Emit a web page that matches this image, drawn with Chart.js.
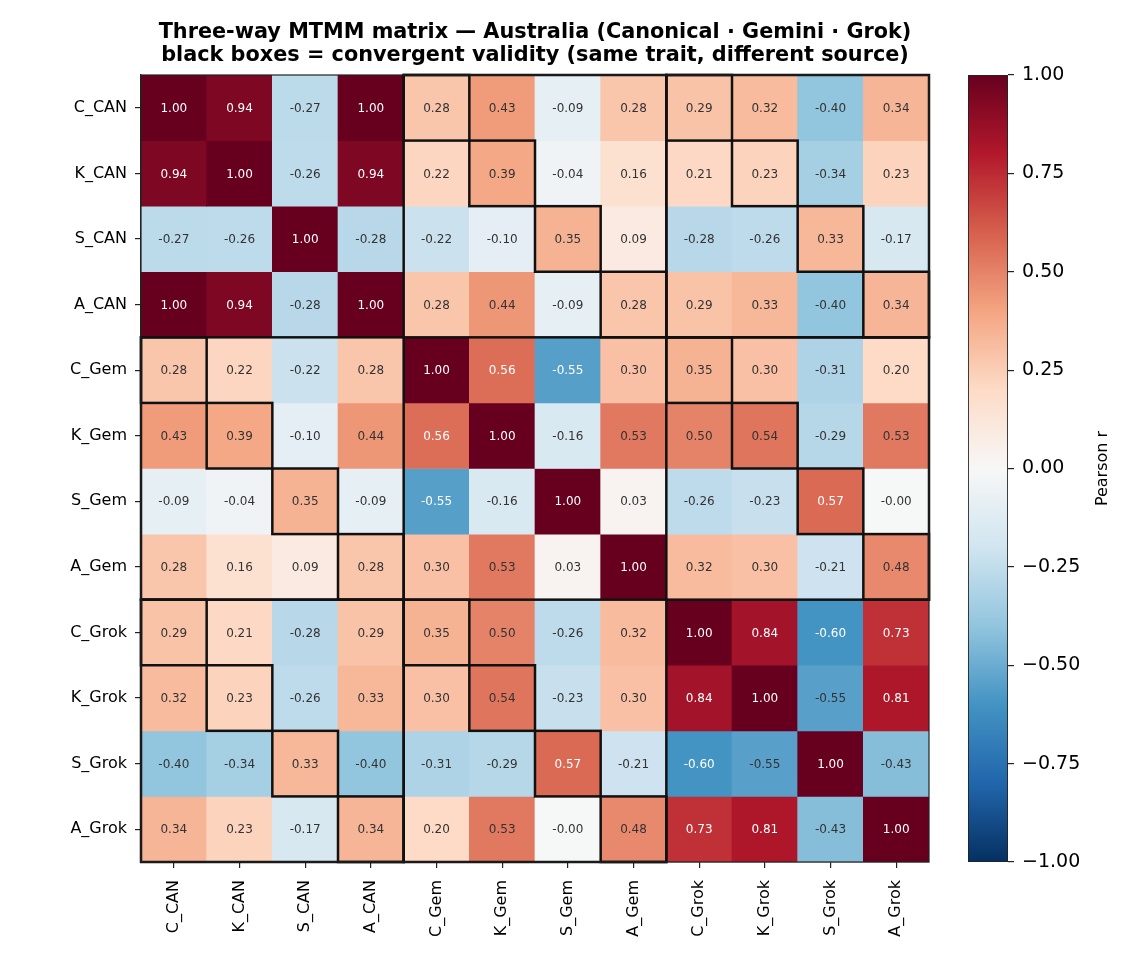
<!DOCTYPE html>
<html>
<head>
<meta charset="utf-8">
<script src="https://cdn.jsdelivr.net/npm/chart.js@4.4.1/dist/chart.umd.min.js"></script>
<style>
  html, body { margin: 0; padding: 0; background: #fff; }
  #wrap { position: relative; width: 1140px; height: 960px; }
  #heat { position: absolute; left: 0; top: 0; }
  #cbar { position: absolute; left: 940px; top: 0; }
</style>
</head>
<body>
<div id="wrap">
  <canvas id="heat" width="940" height="960"></canvas>
  <canvas id="cbar" width="200" height="960"></canvas>
</div>
<script>
// variables (same order on both axes)
const varLabels = ['C_CAN', 'K_CAN', 'S_CAN', 'A_CAN',
                   'C_Gem', 'K_Gem', 'S_Gem', 'A_Gem',
                   'C_Grok', 'K_Grok', 'S_Grok', 'A_Grok'];

// correlation matrix, one row per variable
const rC_CAN  = [1.00, 0.94, -0.27, 1.00, 0.28, 0.43, -0.09, 0.28, 0.29, 0.32, -0.40, 0.34];
const rK_CAN  = [0.94, 1.00, -0.26, 0.94, 0.22, 0.39, -0.04, 0.16, 0.21, 0.23, -0.34, 0.23];
const rS_CAN  = [-0.27, -0.26, 1.00, -0.28, -0.22, -0.10, 0.35, 0.09, -0.28, -0.26, 0.33, -0.17];
const rA_CAN  = [1.00, 0.94, -0.28, 1.00, 0.28, 0.44, -0.09, 0.28, 0.29, 0.33, -0.40, 0.34];
const rC_Gem  = [0.28, 0.22, -0.22, 0.28, 1.00, 0.56, -0.553, 0.30, 0.35, 0.30, -0.31, 0.20];
const rK_Gem  = [0.43, 0.39, -0.10, 0.44, 0.56, 1.00, -0.16, 0.53, 0.50, 0.54, -0.29, 0.53];
const rS_Gem  = [-0.09, -0.04, 0.35, -0.09, -0.553, -0.16, 1.00, 0.03, -0.26, -0.23, 0.57, -0.004];
const rA_Gem  = [0.28, 0.16, 0.09, 0.28, 0.30, 0.53, 0.03, 1.00, 0.32, 0.30, -0.21, 0.48];
const rC_Grok = [0.29, 0.21, -0.28, 0.29, 0.35, 0.50, -0.26, 0.32, 1.00, 0.84, -0.60, 0.73];
const rK_Grok = [0.32, 0.23, -0.26, 0.33, 0.30, 0.54, -0.23, 0.30, 0.84, 1.00, -0.547, 0.81];
const rS_Grok = [-0.40, -0.34, 0.33, -0.40, -0.31, -0.29, 0.57, -0.21, -0.60, -0.547, 1.00, -0.43];
const rA_Grok = [0.34, 0.23, -0.17, 0.34, 0.20, 0.53, -0.004, 0.48, 0.73, 0.81, -0.43, 1.00];

const matrix = [rC_CAN, rK_CAN, rS_CAN, rA_CAN, rC_Gem, rK_Gem, rS_Gem, rA_Gem,
                rC_Grok, rK_Grok, rS_Grok, rA_Grok];

// colour bar range and ticks
const cbarMin = -1;
const cbarMax = 1;
const cbarTicks = [-1, -0.75, -0.5, -0.25, 0, 0.25, 0.5, 0.75, 1];

const titleLines = ['Three-way MTMM matrix \u2014 Australia (Canonical \u00b7 Gemini \u00b7 Grok)',
                    'black boxes = convergent validity (same trait, different source)'];

// RdBu_r colormap stops (low -> high)
const rdbuR = ['#053061', '#2166ac', '#4393c3', '#92c5de', '#d1e5f0', '#f7f7f7',
               '#fddbc7', '#f4a582', '#d6604d', '#b2182b', '#67001f'];

function hexToRgb(h) {
    return [parseInt(h.slice(1, 3), 16), parseInt(h.slice(3, 5), 16), parseInt(h.slice(5, 7), 16)];
}

function cmap(v) {
    let t = (v - cbarMin) / (cbarMax - cbarMin);
    t = Math.max(0, Math.min(1, t)) * (rdbuR.length - 1);
    const i = Math.min(Math.floor(t), rdbuR.length - 2);
    const f = t - i;
    const a = hexToRgb(rdbuR[i]);
    const b = hexToRgb(rdbuR[i + 1]);
    const c = a.map((x, k) => Math.round(x + (b[k] - x) * f));
    return `rgb(${c[0]},${c[1]},${c[2]})`;
}

const FONT = 'DejaVu Sans';

// one stacked dataset per matrix row, each cell one unit high
const datasets = matrix.map((row, r) => ({
    label: varLabels[r],
    data: row.map(() => 1),
    backgroundColor: row.map(v => cmap(v)),
    borderWidth: 0,
    barPercentage: 1,
    categoryPercentage: 1
}));

// cell annotations, convergent boxes, block outlines, title
const heatDecor = {
    id: 'heatDecor',
    afterDatasetsDraw(chart) {
        const ctx = chart.ctx;
        const xs = chart.scales.x;
        const ys = chart.scales.y;
        const ca = chart.chartArea;
        const n = varLabels.length;
        const cw = (ca.right - ca.left) / n;
        const colLeft = c => xs.getPixelForValue(c) - cw / 2;
        const rowTop = r => ys.getPixelForValue(r);

        // text inside cells
        ctx.save();
        ctx.font = `12px "${FONT}"`;
        ctx.textAlign = 'center';
        ctx.textBaseline = 'middle';
        matrix.forEach((row, r) => {
            const meta = chart.getDatasetMeta(r);
            row.forEach((v, c) => {
                const el = meta.data[c];
                const yc = (rowTop(r) + rowTop(r + 1)) / 2;
                ctx.fillStyle = Math.abs(v) > 0.55 ? '#ffffff' : '#333333';
                ctx.fillText(v.toFixed(2), el.x, yc + 1);
            });
        });
        ctx.restore();

        ctx.save();
        ctx.strokeStyle = '#111111';
        ctx.lineWidth = 2.5;
        // off-diagonal source blocks
        const srcOf = l => l.split('_')[1];
        const sources = [...new Set(varLabels.map(srcOf))];
        const bs = n / sources.length;
        for (let bi = 0; bi < sources.length; bi++) {
            for (let bj = 0; bj < sources.length; bj++) {
                if (bi === bj) continue;
                const x0 = colLeft(bj * bs), x1 = colLeft(bj * bs + bs - 1) + cw;
                const y0 = rowTop(bi * bs), y1 = rowTop(bi * bs + bs);
                ctx.strokeRect(x0, y0, x1 - x0, y1 - y0);
            }
        }
        // convergent validity: same trait, different source
        varLabels.forEach((rl, r) => {
            varLabels.forEach((cl, c) => {
                const [tr, sr] = rl.split('_');
                const [tc, sc] = cl.split('_');
                if (tr === tc && sr !== sc) {
                    const x0 = colLeft(c);
                    const y0 = rowTop(r), y1 = rowTop(r + 1);
                    ctx.strokeRect(x0, y0, cw, y1 - y0);
                }
            });
        });
        // frame
        ctx.lineWidth = 1.2;
        ctx.strokeStyle = '#222222';
        ctx.strokeRect(ca.left, ca.top, ca.right - ca.left, ca.bottom - ca.top);
        ctx.restore();

        // title
        ctx.save();
        ctx.font = `bold 20.8px "${FONT}"`;
        ctx.fillStyle = '#000000';
        ctx.textAlign = 'center';
        ctx.textBaseline = 'middle';
        const cx = (ca.left + ca.right) / 2;
        ctx.fillText(titleLines[0], cx, 33);
        ctx.fillText(titleLines[1], cx, 56);
        ctx.restore();
    }
};

new Chart(document.getElementById('heat'), {
    type: 'bar',
    data: { labels: varLabels, datasets: datasets },
    options: {
        responsive: false,
        animation: false,
        layout: { padding: { top: 75, right: 11, left: 0, bottom: 0 } },
        plugins: { legend: { display: false }, tooltip: { enabled: false }, title: { display: false } },
        scales: {
            x: {
                stacked: true,
                offset: true,
                afterFit: s => { s.height = 98; },
                grid: { display: true, drawOnChartArea: false, offset: false, tickLength: 6, color: '#222', lineWidth: 1.2 },
                border: { display: true, color: '#222', width: 1.2 },
                ticks: { autoSkip: false, maxRotation: 90, minRotation: 90, padding: 12, color: '#000',
                         font: { family: FONT, size: 16 } }
            },
            y: {
                stacked: true,
                reverse: true,
                min: 0,
                max: varLabels.length,
                afterFit: s => { s.width = 141; },
                afterBuildTicks: s => { s.ticks = varLabels.map((_, i) => ({ value: i + 0.5 })); },
                grid: { display: true, drawOnChartArea: false, tickLength: 6, color: '#222', lineWidth: 1.2 },
                border: { display: true, color: '#222', width: 1.2 },
                ticks: { autoSkip: false, padding: 8, color: '#000', font: { family: FONT, size: 16 },
                         callback: v => varLabels[Math.floor(v)] }
            }
        }
    },
    plugins: [heatDecor]
});

// colour bar
const cbarLabel = {
    id: 'cbarLabel',
    afterDraw(chart) {
        const ctx = chart.ctx;
        const ca = chart.chartArea;
        ctx.save();
        ctx.translate(163, (ca.top + ca.bottom) / 2);
        ctx.rotate(-Math.PI / 2);
        ctx.font = `16px "${FONT}"`;
        ctx.fillStyle = '#000';
        ctx.textAlign = 'center';
        ctx.textBaseline = 'middle';
        ctx.fillText('Pearson r', 0, 0);
        ctx.restore();
    }
};

new Chart(document.getElementById('cbar'), {
    type: 'bar',
    data: {
        labels: [''],
        datasets: [{
            data: [[cbarMin, cbarMax]],
            backgroundColor: ctx => {
                const ca = ctx.chart.chartArea;
                if (!ca) return '#ccc';
                const g = ctx.chart.ctx.createLinearGradient(0, ca.bottom, 0, ca.top);
                rdbuR.forEach((c, i) => g.addColorStop(i / (rdbuR.length - 1), c));
                return g;
            },
            borderColor: '#222',
            borderWidth: 1.2,
            borderSkipped: false,
            barPercentage: 1,
            categoryPercentage: 1
        }]
    },
    options: {
        responsive: false,
        animation: false,
        layout: { padding: { top: 75, bottom: 98, left: 28, right: 0 } },
        plugins: { legend: { display: false }, tooltip: { enabled: false } },
        scales: {
            x: { display: false },
            y: {
                position: 'right',
                min: cbarMin,
                max: cbarMax,
                afterFit: s => { s.width = 132; },
                afterBuildTicks: s => { s.ticks = cbarTicks.map(v => ({ value: v })); },
                grid: { display: true, drawOnChartArea: false, tickLength: 6, color: '#222', lineWidth: 1.2 },
                border: { display: false },
                ticks: { padding: 8, color: '#000', font: { family: FONT, size: 19 },
                         callback: v => (v < 0 ? '\u2212' : '') + Math.abs(v).toFixed(2) }
            }
        }
    },
    plugins: [cbarLabel]
});
</script>
</body>
</html>
